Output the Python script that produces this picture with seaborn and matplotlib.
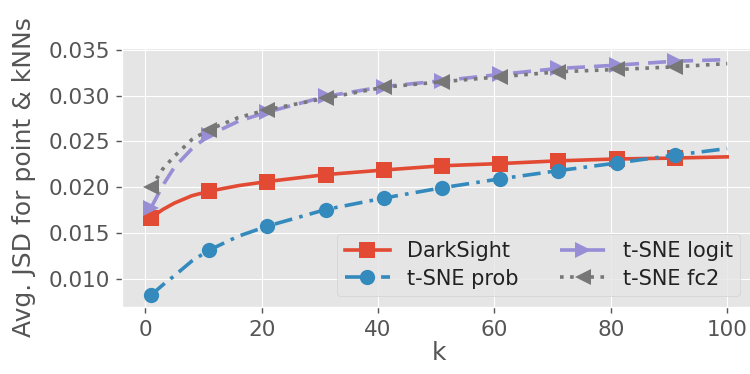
import matplotlib
matplotlib.use("Agg")
import matplotlib.pyplot as plt
import seaborn as sns
import pandas as pd

k_values = [1, 3, 5, 8, 11, 16, 21, 31, 41, 51, 61, 71, 81, 91, 100]
marker_k = [1, 11, 21, 31, 41, 51, 61, 71, 81, 91]

darksight = [0.0167, 0.0176, 0.0183, 0.0191, 0.0196, 0.0202, 0.02065, 0.0214, 0.0219, 0.02236,
             0.0226, 0.0229, 0.0231, 0.0232, 0.02333]
tsne_prob = [0.0083, 0.0094, 0.0104, 0.0120, 0.0132, 0.0147, 0.0158, 0.0176, 0.01885, 0.01997,
             0.02094, 0.02183, 0.02266, 0.02352, 0.02423]
tsne_logit = [0.0178, 0.0202, 0.0222, 0.0242, 0.0257, 0.0272, 0.0282, 0.0299, 0.03097, 0.03161,
              0.0323, 0.03294, 0.0333, 0.03373, 0.0339]
tsne_fc2 = [0.0200, 0.0220, 0.0234, 0.0252, 0.0263, 0.0276, 0.02846, 0.02971, 0.0309, 0.0315,
            0.03204, 0.03258, 0.03283, 0.03312, 0.03347]

series = [
    ("DarkSight", darksight, "#E24A33", "s", "-"),
    ("t-SNE prob", tsne_prob, "#348ABD", "o", (0, (5, 2, 1, 2))),
    ("t-SNE logit", tsne_logit, "#988ED5", ">", (0, (5, 2.5))),
    ("t-SNE fc2", tsne_fc2, "#777777", "<", (0, (1, 1.8))),
]

plt.style.use("ggplot")
fig = plt.figure(figsize=(7.5, 3.74), dpi=100)
ax = fig.add_axes([0.163, 0.179, 1.008 - 0.163, 0.8725 - 0.179])

mark_idx = [k_values.index(m) for m in marker_k]
for name, vals, color, mk, ls in series:
    df = pd.DataFrame({"k": k_values, "v": vals})
    sns.lineplot(data=df, x="k", y="v", ax=ax, color=color, marker=mk, linestyle=ls,
                 linewidth=2.6, markersize=11, markeredgewidth=0, markevery=mark_idx,
                 label=name)

ax.set_xlim(-3.95, 104.95)
ax.set_ylim(0.0070, 0.0352)
ax.set_xticks([0, 20, 40, 60, 80, 100])
ax.set_yticks([0.010, 0.015, 0.020, 0.025, 0.030, 0.035])
ax.set_yticklabels(["0.010", "0.015", "0.020", "0.025", "0.030", "0.035"])
ax.tick_params(labelsize=15.5, colors="#555555", labelcolor="#555555",
               direction="out", length=4, width=1, pad=5)
ax.set_xlabel("k", fontsize=18, color="#555555", labelpad=1)
ax.set_ylabel("Avg. JSD for point & kNNs", fontsize=18, color="#555555", labelpad=9)

leg = ax.legend(ncol=2, fontsize=15, loc="lower right",
                bbox_to_anchor=(740 / 750, (374 - 296) / 374),
                bbox_transform=fig.transFigure, borderaxespad=0,
                handlelength=2.2, columnspacing=2.0, borderpad=0.35, labelspacing=0.35)
for t in leg.get_texts():
    t.set_color("#222222")

fig.savefig("out.png", dpi=100)
